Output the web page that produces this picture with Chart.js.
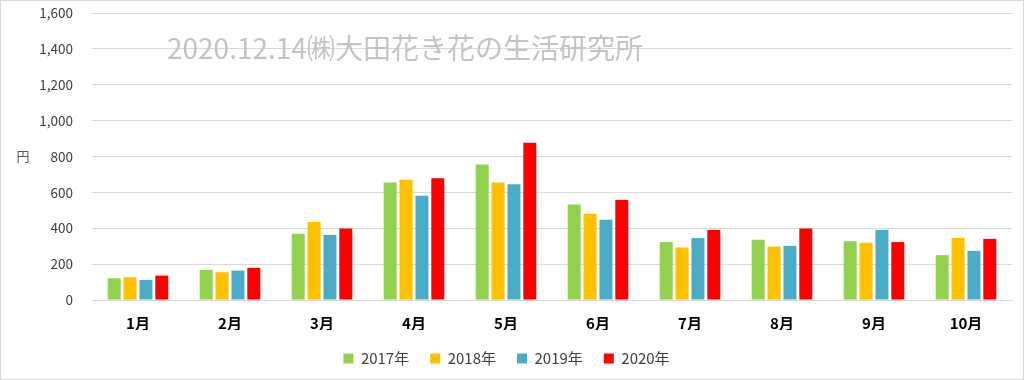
<!DOCTYPE html>
<html><head><meta charset="utf-8">
<script src="https://cdn.jsdelivr.net/npm/chart.js@4/dist/chart.umd.min.js"></script>
<style>
html,body{margin:0;padding:0;background:#fff;}
#wrap{position:relative;width:1022px;height:378px;border:1px solid #d9d9d9;}
</style></head><body>
<div id="wrap"><canvas id="c" width="1022" height="378"></canvas></div>
<script>
const categories = ['1月','2月','3月','4月','5月','6月','7月','8月','9月','10月'];
const seriesNames = ['2017年','2018年','2019年','2020年'];
const v2017 = [121,168,369,655,755,533,323,336,328,250];
const v2018 = [127,155,435,670,655,481,293,298,319,347];
const v2019 = [112,164,362,582,645,448,345,302,390,274];
const v2020 = [136,179,399,679,877,558,390,399,323,341];
const yTicks = [0,200,400,600,800,1000,1200,1400,1600];
const unitLabel = '円';
const watermark = '2020.12.14㈱大田花き花の生活研究所';
const colors = ['#92D050','#FFC000','#4BACC6','#FF0000'];
const FONT = "'Noto Sans CJK JP','Noto Sans',sans-serif";

const extras = {
  id:'extras',
  afterDraw(chart){
    const ctx = chart.ctx, y = chart.scales.y;
    ctx.save();
    ctx.font = "28px " + FONT;
    ctx.fillStyle = '#c4c4c4';
    ctx.textBaseline = 'middle';
    ctx.textAlign = 'left';
    ctx.fillText(watermark, 166, 47);
    ctx.font = "13px " + FONT;
    ctx.fillStyle = '#595959';
    ctx.textAlign = 'center';
    ctx.fillText(unitLabel, 22, y.getPixelForValue(800));
    ctx.restore();
  }
};

new Chart(document.getElementById('c'), {
  type:'bar',
  data:{
    labels: categories,
    datasets:[v2017,v2018,v2019,v2020].map((d,i)=>({
      label: seriesNames[i], data:d, backgroundColor: colors[i],
      borderColor: colors[i], borderWidth:0,
      categoryPercentage:0.69, barPercentage:0.82
    }))
  },
  options:{
    responsive:false, animation:false,
    layout:{padding:{left:0,right:11,top:0,bottom:3}},
    plugins:{
      legend:{position:'bottom',
        labels:{boxWidth:10,boxHeight:10,padding:21,color:'#404040',font:{family:FONT,size:15}}},
      tooltip:{enabled:false}
    },
    scales:{
      x:{
        grid:{display:false,drawTicks:false},
        border:{color:'#d9d9d9'},
        ticks:{color:'#000',padding:14,font:{family:FONT,size:15,weight:'bold'}},
        afterFit(s){ s.height = 30; }
      },
      y:{
        min:0,max:1600,
        afterBuildTicks(s){ s.ticks = yTicks.map(v=>({value:v})); },
        grid:{color:'#d9d9d9',drawTicks:true,tickLength:15,tickColor:'rgba(0,0,0,0)'},
        border:{display:false},
        ticks:{color:'#404040',padding:4,font:{family:FONT,size:13.5},
          callback:v=>v.toLocaleString('en-US')},
        afterFit(s){ s.width = 91; }
      }
    }
  },
  plugins:[extras]
});
</script>
</body></html>
